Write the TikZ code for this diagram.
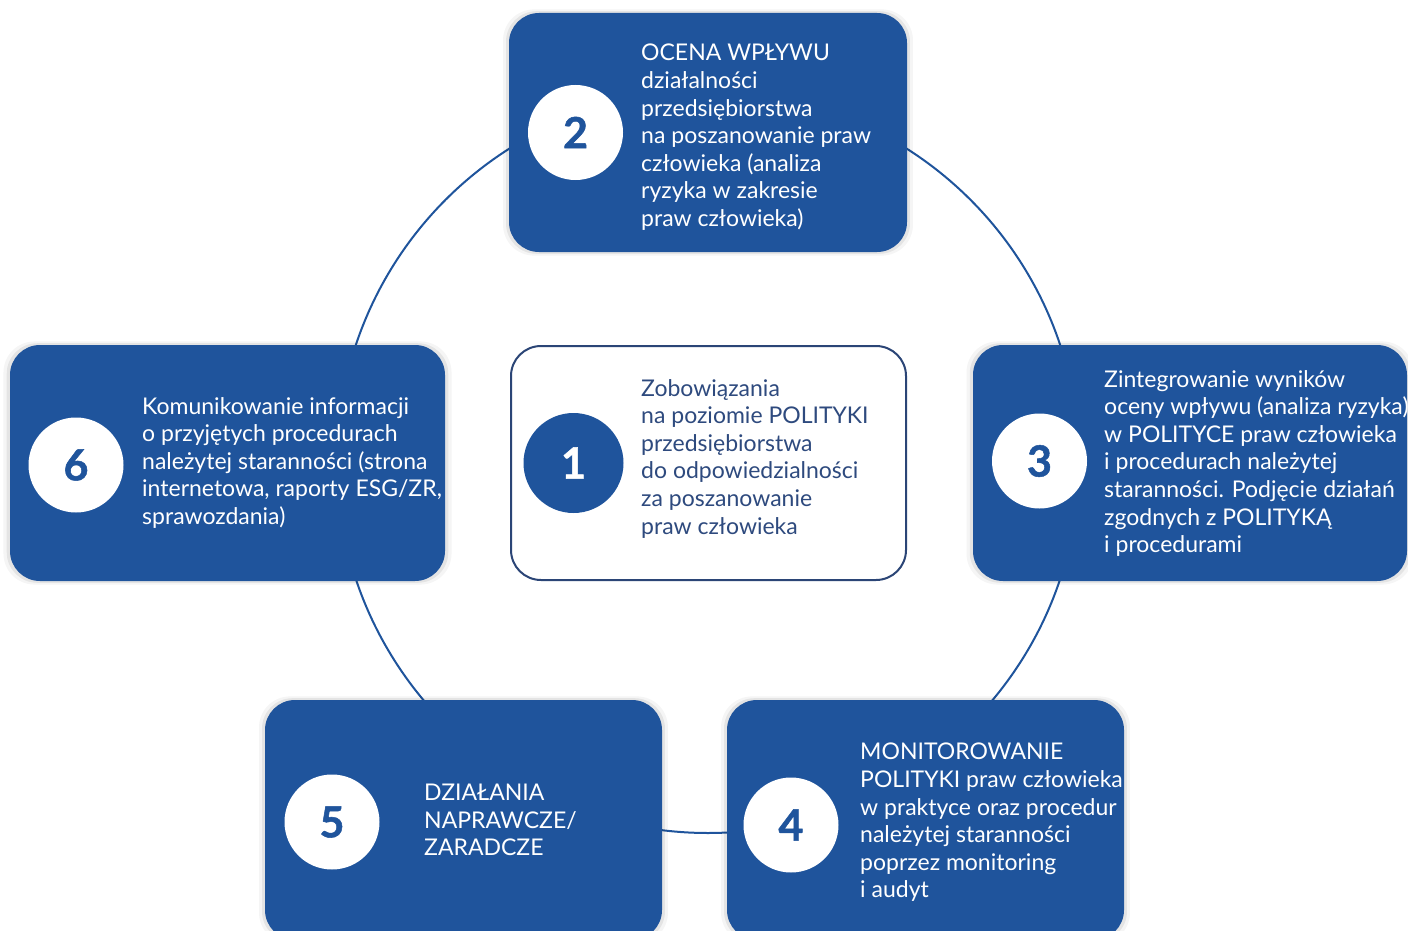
\documentclass[tikz,border=0pt]{standalone}
\usepackage{fontspec}
\setmainfont{Lato}
\newfontfamily\digitfont{Lato}[BoldFeatures={FakeBold=1.2}]
\usepackage{xcolor}
\usetikzlibrary{positioning,calc,shadows}
\definecolor{cycleblue}{HTML}{1F549C}
\definecolor{navyline}{HTML}{2B4576}
\definecolor{navytext}{HTML}{2E4A7E}

\begin{document}
\begin{tikzpicture}[x=1pt,y=-1pt,
    card/.style={fill=cycleblue, rounded corners=30pt, inner sep=0,
        general shadow={shadow scale=1.015, opacity=0.07, fill=black},
        general shadow={shadow scale=1.03, opacity=0.04, fill=black}},
    corecard/.style={draw=navyline, line width=2pt, fill=white, rounded corners=30pt, inner sep=0},
    disk/.style={circle, fill=white, minimum size=95pt, inner sep=0, text=cycleblue,
        font=\fontsize{43}{43}\digitfont\bfseries},
    txt/.style={anchor=north west, inner sep=0, align=left, text=white,
        font=\fontsize{23}{27.6}\selectfont, execute at begin node=\rule{0pt}{18pt}}]
    \useasboundingbox (0,0) rectangle (1408,931);
    \clip (0,0) rectangle (1408,931);

    % ring behind the cards
    \coordinate (hub) at (708,462);
    \draw[cycleblue, line width=2pt] (hub) circle[radius=371];

    % cards of the cycle
    \node[card, minimum width=398pt, minimum height=239pt] (box2) at (708,132.5) {};
    \node[corecard, minimum width=395pt, minimum height=234pt] (box1) at (708.5,463) {};
    \node[card, minimum width=435pt, minimum height=236pt] (box6) at (227.5,463) {};
    \node[card, minimum width=434pt, minimum height=236pt] (box3) at (1190,463) {};
    \node[card, minimum width=397pt, minimum height=240pt] (box5) at (463.5,820) {};
    \node[card, minimum width=397pt, minimum height=240pt] (box4) at (925.5,820) {};

    % numbers
    \node[disk] (n2) at (575.5,132.5) {2};
    \node[disk, fill=cycleblue, text=white, minimum size=100pt] (n1) at (573.5,463) {1};
    \node[disk] (n6) at (76,465) {6};
    \node[disk] (n3) at (1039.5,461) {3};
    \node[disk] (n5) at (332,822) {5};
    \node[disk] (n4) at (791,825) {4};

    % texts
    \node[txt] (t2) at (641,44) {OCENA WPŁYWU\\działalności\\przedsiębiorstwa\\na poszanowanie praw\\człowieka (analiza\\ryzyka w zakresie\\praw człowieka)};
    \node[txt, text=navytext] (t1) at (641,379) {Zobowiązania\\na poziomie POLITYKI\\przedsiębiorstwa\\do odpowiedzialności\\za poszanowanie\\praw człowieka};
    \node[txt] (t6) at (142,397) {Komunikowanie informacji\\o przyjętych procedurach\\należytej staranności (strona\\internetowa, raporty ESG/ZR,\\sprawozdania)};
    \node[txt] (t3) at (1104,370) {Zintegrowanie wyników\\oceny wpływu (analiza ryzyka)\\w POLITYCE praw człowieka\\i procedurach należytej\\staranności. Podjęcie działań\\zgodnych z POLITYKĄ\\i procedurami};
    \node[txt] (t5) at (424,784) {DZIAŁANIA\\NAPRAWCZE/\\ZARADCZE};
    \node[txt] (t4) at (860,743) {MONITOROWANIE\\POLITYKI praw człowieka\\w praktyce oraz procedur\\należytej staranności\\poprzez monitoring\\i audyt};
\end{tikzpicture}
\end{document}
